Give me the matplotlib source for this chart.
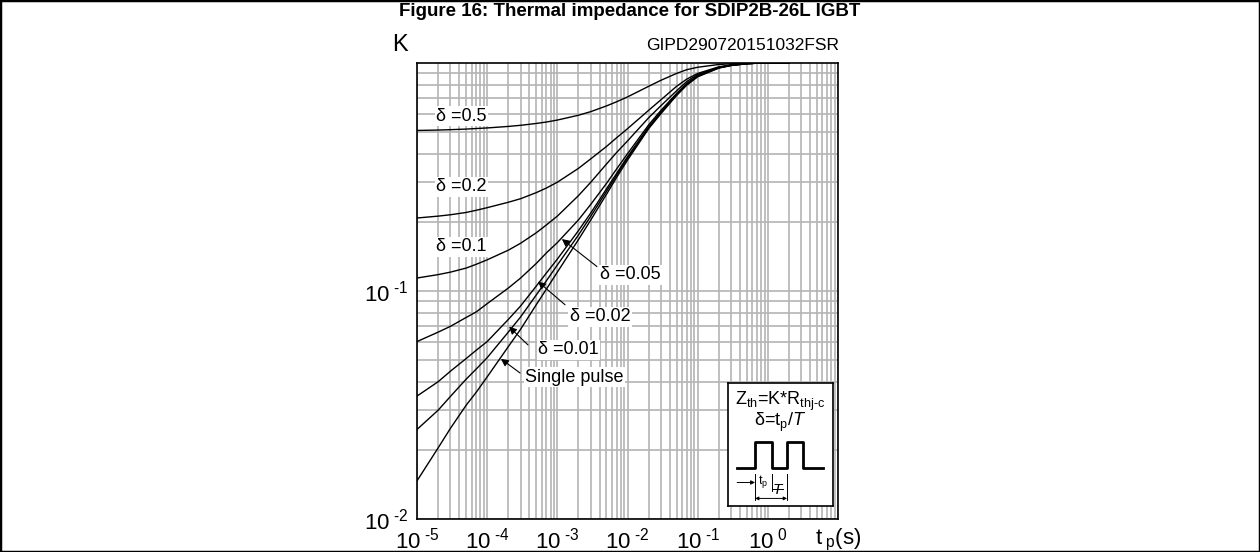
import numpy as np
import matplotlib.pyplot as plt
from matplotlib.patches import Rectangle

plt.rcParams['font.family'] = ['Liberation Sans', 'DejaVu Sans']
plt.rcParams['mathtext.fontset'] = 'custom'
plt.rcParams['mathtext.rm'] = 'Liberation Sans'
plt.rcParams['mathtext.it'] = 'Liberation Sans:italic'
plt.rcParams['mathtext.bf'] = 'Liberation Sans:bold'

# pulse duration t_p (s)
tp = [1e-5, 2e-5, 3e-5, 5e-5, 7e-5,
      1e-4, 2e-4, 3e-4, 5e-4, 7e-4,
      1e-3, 2e-3, 3e-3, 5e-3, 7e-3,
      1e-2, 2e-2, 3e-2, 5e-2, 7e-2,
      1e-1, 2e-1, 3e-1, 5e-1, 7e-1,
      1, 2]

# K for each duty cycle
k_single = [0.0147, 0.0205, 0.025, 0.0315, 0.036,
            0.042, 0.057, 0.068, 0.087, 0.102,
            0.121, 0.168, 0.205, 0.265, 0.315,
            0.375, 0.515, 0.60, 0.72, 0.80,
            0.87, 0.95, 0.975, 0.992, 0.998,
            1.0, 1.0]
k_001 = [0.0247, 0.030, 0.0345, 0.041, 0.0455,
         0.051, 0.066, 0.077, 0.096, 0.111,
         0.130, 0.176, 0.213, 0.273, 0.322,
         0.382, 0.52, 0.605, 0.725, 0.805,
         0.873, 0.952, 0.976, 0.993, 0.998,
         1.0, 1.0]
k_002 = [0.0346, 0.040, 0.0445, 0.0505, 0.055,
         0.060, 0.075, 0.086, 0.105, 0.120,
         0.138, 0.184, 0.220, 0.280, 0.328,
         0.388, 0.525, 0.61, 0.73, 0.81,
         0.876, 0.953, 0.977, 0.993, 0.998,
         1.0, 1.0]
k_005 = [0.060, 0.066, 0.070, 0.0765, 0.081,
         0.088, 0.103, 0.114, 0.132, 0.147,
         0.163, 0.205, 0.240, 0.296, 0.343,
         0.40, 0.535, 0.62, 0.735, 0.815,
         0.88, 0.955, 0.978, 0.993, 0.998,
         1.0, 1.0]
k_01 = [0.114, 0.118, 0.121, 0.126, 0.131,
        0.137, 0.151, 0.162, 0.180, 0.195,
        0.213, 0.262, 0.30, 0.36, 0.405,
        0.455, 0.575, 0.65, 0.755, 0.83,
        0.89, 0.958, 0.98, 0.994, 0.998,
        1.0, 1.0]
k_02 = [0.209, 0.213, 0.216, 0.221, 0.226,
        0.232, 0.245, 0.254, 0.270, 0.283,
        0.30, 0.345, 0.38, 0.43, 0.47,
        0.515, 0.62, 0.69, 0.79, 0.85,
        0.90, 0.962, 0.982, 0.995, 0.999,
        1.0, 1.0]
k_05 = [0.506, 0.508, 0.510, 0.513, 0.516,
        0.519, 0.527, 0.533, 0.543, 0.551,
        0.562, 0.59, 0.612, 0.648, 0.676,
        0.71, 0.79, 0.84, 0.90, 0.935,
        0.958, 0.985, 0.993, 0.998, 1.0,
        1.0, 1.0]

curves = [k_05, k_02, k_01, k_005, k_002, k_001, k_single]

xticks = [1e-5, 1e-4, 1e-3, 1e-2, 1e-1, 1e0, 1e1]
xticklabels = ['10$^{\\ \\text{-}5}$', '10$^{\\ \\text{-}4}$', '10$^{\\ \\text{-}3}$',
               '10$^{\\ \\text{-}2}$', '10$^{\\ \\text{-}1}$', '10$^{\\ 0}$',
               't$_{\\ \\mathrm{p}}$(s)']
yticks = [1e-2, 1e-1]
yticklabels = ['10$^{\\ \\text{-}2}$', '10$^{\\ \\text{-}1}$']

# left-side labels (t, K) and arrow labels (text pos, arrow tail, arrow tip)
side_labels = [('δ =0.5', 1.87e-5, 0.583), ('δ =0.2', 1.87e-5, 0.286), ('δ =0.1', 1.87e-5, 0.156)]
arrow_labels = [
    ('δ =0.05', 4.05e-3, 0.118, 3.67e-3, 0.128, 1.16e-3, 0.169),
    ('δ =0.02', 1.51e-3, 0.077, 1.29e-3, 0.087, 5.3e-4, 0.110),
    ('δ =0.01', 5.3e-4, 0.0552, 3.82e-4, 0.058, 2.05e-4, 0.0697),
    ('Single pulse', 3.46e-4, 0.0419, 2.94e-4, 0.0437, 1.57e-4, 0.0504),
]

fig = plt.figure(figsize=(12.6, 5.52), dpi=100)
ax = fig.add_axes([417 / 1260, 33 / 552, 421 / 1260, 456 / 552])
ax.set_xscale('log')
ax.set_yscale('log')
ax.set_xlim(1e-5, 1e1)
ax.set_ylim(1e-2, 1e0)

for k in curves:
    ax.plot(tp, k, color='black', lw=1.0, zorder=3)

ax.grid(True, which='both', color='#b4b4b4', lw=1.2, zorder=0)
ax.set_axisbelow(True)
for s in ax.spines.values():
    s.set_linewidth(1.2)
ax.set_xticks(xticks)
ax.set_xticklabels(xticklabels, fontsize=16)
ax.set_yticks(yticks)
ax.set_yticklabels(yticklabels, fontsize=16)
ax.tick_params(which='both', length=0, pad=6)
ax.xaxis.set_minor_formatter(plt.NullFormatter())
ax.yaxis.set_minor_formatter(plt.NullFormatter())

box = dict(facecolor='white', edgecolor='none', pad=1.0)
for txt, x, y in side_labels:
    ax.text(x, y, txt, fontsize=13, ha='left', va='center', bbox=box, zorder=4)
for txt, x, y, x0, y0, x1, y1 in arrow_labels:
    ax.text(x, y, txt, fontsize=13, ha='left', va='center', bbox=box, zorder=4)
    ax.annotate('', xy=(x1, y1), xytext=(x0, y0),
                arrowprops=dict(arrowstyle='-|>', color='black', lw=0.8,
                                mutation_scale=11, shrinkA=0, shrinkB=0), zorder=4)

fig.text(400 / 1260, 1 - 45 / 552, 'K', fontsize=17, ha='center', va='center')
fig.text(839 / 1260, 1 - 45 / 552, 'GIPD290720151032FSR', fontsize=12.5, ha='right', va='center')
fig.text(0.5, 1 - 11 / 552, 'Figure 16: Thermal impedance for SDIP2B-26L IGBT',
         fontsize=13.5, fontweight='bold', ha='center', va='center')

# inset with formula and pulse sketch
ins = ax.inset_axes([0.739, 0.029, 0.249, 0.269])
ins.set_xlim(0, 100)
ins.set_ylim(0, 100)
ins.set_xticks([])
ins.set_yticks([])
ins.set_facecolor('white')
for s in ins.spines.values():
    s.set_linewidth(1.2)
ins.text(50, 85, 'Z$_{\\mathrm{th}}$=K*R$_{\\mathrm{thj\\text{-}c}}$', fontsize=13, ha='center', va='center')
ins.text(50, 68, 'δ=t$_{\\mathrm{p}}$/$\\mathit{T}$', fontsize=13, ha='center', va='center')
px = [8.6, 25.7, 25.7, 41.9, 41.9, 56.2, 56.2, 71.4, 71.4, 90.5]
py = [31, 31, 52, 52, 31, 31, 52, 52, 31, 31]
ins.plot(px, py, color='black', lw=2)
ins.annotate('', xy=(25.7, 19), xytext=(8.6, 19),
             arrowprops=dict(arrowstyle='-|>', color='black', lw=0.7, mutation_scale=6, shrinkA=0, shrinkB=0))
ins.plot([25.7, 25.7], [5, 26], color='black', lw=0.7)
ins.plot([41.9, 41.9], [12, 26], color='black', lw=0.7)
ins.plot([56.2, 56.2], [5, 26], color='black', lw=0.7)
ins.plot([41.9, 52], [14, 14], color='black', lw=0.7)
ins.annotate('', xy=(56.2, 6), xytext=(25.7, 6),
             arrowprops=dict(arrowstyle='<|-|>', color='black', lw=0.7, mutation_scale=5, shrinkA=0, shrinkB=0))
ins.text(33, 20, 't$_{\\mathrm{p}}$', fontsize=9, ha='center', va='center')
ins.text(48, 7, '$\\mathit{T}$', fontsize=11, ha='center', va='bottom')

fig.patches.append(Rectangle((0, 0), 1, 1, transform=fig.transFigure, fill=False,
                             edgecolor='black', lw=2.5))

fig.savefig('out.png', dpi=100)
